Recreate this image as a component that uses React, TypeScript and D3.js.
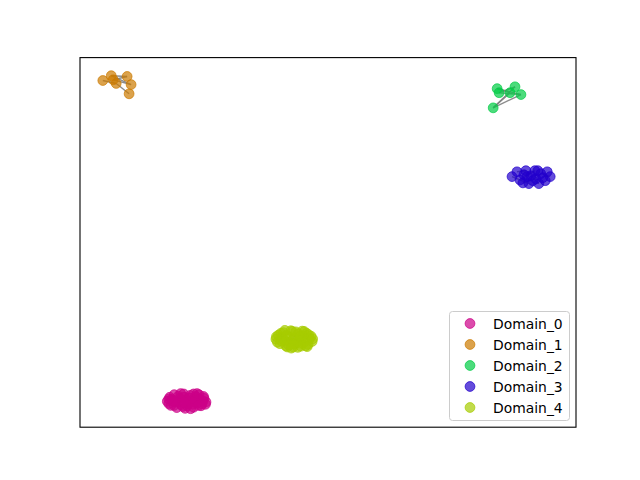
import * as d3 from 'd3';

const domainNames = ['Domain_0', 'Domain_1', 'Domain_2', 'Domain_3', 'Domain_4'];
const domainColors = ['#cc0088', '#cc7a00', '#00cc44', '#2200cc', '#a6cc00'];

// node positions per domain, [x, y] in embedding units
const domain0Nodes: [number, number][] = [
  [17.6, 7.0], [18.1, 8.1], [18.3, 5.9], [19.0, 8.8], [19.2, 6.8], [19.5, 5.3], [20.1, 7.8],
  [20.4, 6.1], [20.9, 9.0], [21.2, 5.1], [21.4, 7.4], [21.8, 6.3], [22.2, 8.6], [22.5, 7.0],
  [22.9, 5.4], [23.3, 8.3], [23.6, 6.5], [24.0, 7.6], [24.4, 5.8], [24.8, 7.1], [25.4, 6.8],
  [20.0, 6.9], [22.9, 9.0], [24.0, 8.8], [19.0, 5.9], [17.9, 6.4], [18.5, 7.5], [19.8, 8.4],
  [20.7, 5.6], [21.0, 8.1], [21.6, 5.8], [22.0, 7.9], [22.7, 6.2], [23.2, 7.2], [23.9, 5.9],
  [24.6, 6.3], [25.0, 7.8], [21.0, 6.7], [22.3, 5.0], [20.3, 9.1], [23.6, 9.1], [18.8, 7.1],
  [24.9, 8.3], [17.9, 7.6], [25.3, 6.2],
];
const domain1Nodes: [number, number][] = [
  [4.6, 93.8], [6.3, 95.1], [6.7, 94.0], [7.3, 93.0], [9.5, 94.9], [10.3, 92.7], [9.9, 90.2],
];
const domain2Nodes: [number, number][] = [
  [84.1, 91.6], [83.3, 86.4], [87.7, 92.1], [88.9, 90.0], [86.7, 90.5], [84.5, 90.5],
];
const domain3Nodes: [number, number][] = [
  [87.1, 67.8], [88.1, 69.1], [88.7, 66.9], [89.3, 66.1], [89.9, 69.4], [90.5, 65.9],
  [90.9, 68.0], [91.7, 69.4], [91.9, 67.2], [92.5, 65.9], [92.9, 68.6], [93.8, 66.7],
  [94.2, 69.1], [94.8, 67.8], [90.1, 67.8], [91.3, 66.7], [93.3, 67.5], [89.5, 68.3], [92.3, 69.4],
];
const domain4Nodes: [number, number][] = [
  [39.5, 23.8], [40.0, 24.9], [40.3, 22.6], [41.0, 25.6], [41.2, 23.5], [41.5, 22.0], [42.0, 24.6],
  [42.3, 23.0], [42.8, 25.9], [43.0, 21.7], [43.2, 24.2], [43.6, 22.8], [44.0, 25.3], [44.2, 23.6],
  [44.5, 21.9], [45.0, 24.7], [45.3, 23.1], [45.7, 25.4], [46.0, 22.4], [46.3, 24.0], [46.8, 23.2],
  [44.8, 26.0], [42.5, 26.1], [41.8, 21.7], [43.9, 21.6], [40.8, 24.2], [45.5, 22.0], [39.8, 23.0],
  [40.5, 25.4], [41.6, 24.8], [42.1, 22.2], [42.9, 23.6], [43.5, 25.8], [44.6, 22.7], [45.2, 25.9],
  [46.1, 25.0], [46.6, 24.6], [43.1, 22.5], [44.3, 24.5], [41.3, 26.2], [40.6, 23.3], [46.9, 23.9],
  [42.6, 21.4], [45.8, 21.8], [39.6, 24.5],
];

// edges as index pairs inside each domain
const domain0Edges: [number, number][] = [[0, 6], [2, 11], [4, 13], [9, 17], [12, 19]];
const domain1Edges: [number, number][] = [[2, 5], [3, 6], [2, 4], [1, 5], [0, 3], [1, 4]];
const domain2Edges: [number, number][] = [[1, 4], [1, 2], [1, 3], [0, 3], [5, 2], [0, 4], [5, 3]];
const domain3Edges: [number, number][] = [[0, 5], [1, 4], [2, 7], [3, 8], [6, 9], [10, 13]];
const domain4Edges: [number, number][] = [[0, 7], [2, 10], [4, 13], [9, 17], [12, 20]];

const allNodes = [domain0Nodes, domain1Nodes, domain2Nodes, domain3Nodes, domain4Nodes];
const allEdges = [domain0Edges, domain1Edges, domain2Edges, domain3Edges, domain4Edges];

const W = 640;
const H = 480;
const left = 80;
const right = 576;
const top = 57.6;
const bottom = 427.2;

export default function App() {
  const x = d3.scaleLinear().domain([0, 100]).range([left, right]);
  const y = d3.scaleLinear().domain([0, 100]).range([bottom, top]);
  const font = '"DejaVu Sans", sans-serif';

  // legend box
  const lgX = 449;
  const lgY = 311;
  const lgW = 120;
  const lgH = 109;
  const rowH = 21;

  return (
    <svg width={W} height={H} style={{ position: 'absolute', left: 0, top: 0, background: '#fff' }}>
      <rect x={0} y={0} width={W} height={H} fill="#fff" />
      {allEdges.map((edges, d) =>
        edges.map(([a, b], i) => {
          const na = allNodes[d][a];
          const nb = allNodes[d][b];
          return (
            <line
              key={`e${d}-${i}`}
              x1={x(na[0])}
              y1={y(na[1])}
              x2={x(nb[0])}
              y2={y(nb[1])}
              stroke="#808080"
              strokeOpacity={0.9}
              strokeWidth={1.4}
            />
          );
        })
      )}
      {allNodes.map((nodes, d) =>
        nodes.map((n, i) => (
          <circle
            key={`n${d}-${i}`}
            cx={x(n[0])}
            cy={y(n[1])}
            r={4.9}
            fill={domainColors[d]}
            fillOpacity={0.7}
            stroke={domainColors[d]}
            strokeOpacity={0.7}
            strokeWidth={1}
          />
        ))
      )}
      <rect
        x={left}
        y={top}
        width={right - left}
        height={bottom - top}
        fill="none"
        stroke="#000"
        strokeWidth={1.1}
      />
      <g>
        <rect
          x={lgX + 0.5}
          y={lgY + 0.5}
          width={lgW}
          height={lgH}
          rx={3}
          fill="#fff"
          fillOpacity={0.8}
          stroke="#cccccc"
          strokeWidth={1}
        />
        {domainNames.map((name, i) => (
          <g key={name}>
            <circle
              cx={lgX + 21}
              cy={lgY + 12.5 + i * rowH}
              r={4.9}
              fill={domainColors[i]}
              fillOpacity={0.7}
              stroke={domainColors[i]}
              strokeOpacity={0.7}
              strokeWidth={1}
            />
            <text
              x={lgX + 44}
              y={lgY + 12.5 + i * rowH}
              dy="0.36em"
              fontFamily={font}
              fontSize={13.9}
              fill="#000"
            >
              {name}
            </text>
          </g>
        ))}
      </g>
    </svg>
  );
}
